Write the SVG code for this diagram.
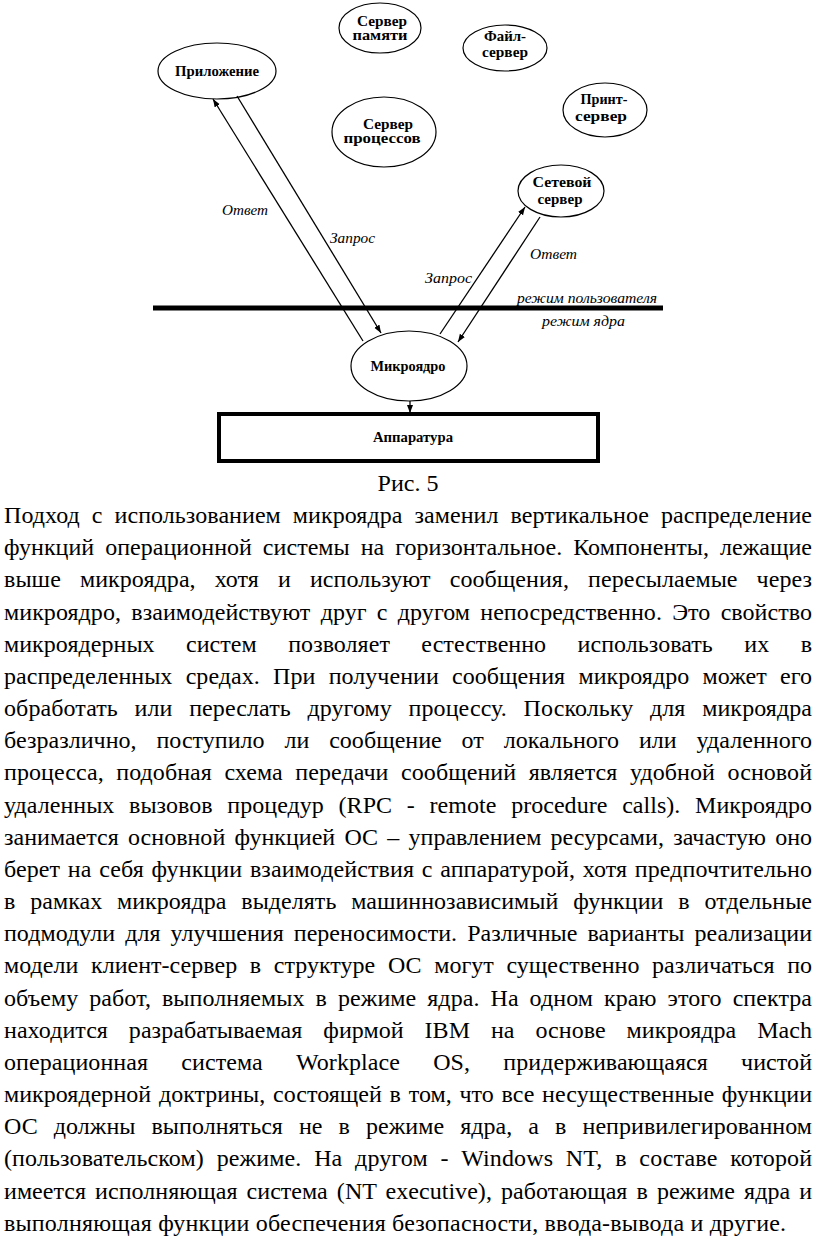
<svg xmlns="http://www.w3.org/2000/svg" width="816" height="1245" viewBox="0 0 816 1245">
<style>
.node ellipse{fill:#fff;stroke:#000;stroke-width:1.2}
.lbl{font-family:"Liberation Serif","Times New Roman",serif;font-weight:bold;font-size:14px;fill:#000;text-anchor:middle}
.it{font-family:"Liberation Serif","Times New Roman",serif;font-style:italic;font-size:15px;fill:#000}
.conn line{stroke:#000;stroke-width:1.3;fill:none}
.p{font-family:"Liberation Serif","Times New Roman",serif;font-size:24px;fill:#000}
</style>
<defs>
<marker id="ah" markerUnits="userSpaceOnUse" markerWidth="9" markerHeight="7" refX="8" refY="3" orient="auto">
<path d="M0,0 L8,3 L0,6 z" fill="#000"/>
</marker>
</defs>
<rect width="816" height="1245" fill="#fff"/>

<g id="node-prilozhenie" class="node">
<ellipse cx="217" cy="71" rx="59" ry="28"/>
<text class="lbl" x="217" y="76" textLength="84" lengthAdjust="spacingAndGlyphs">Приложение</text>
</g>
<g id="node-server-pamyati" class="node">
<ellipse cx="380" cy="28" rx="41" ry="25"/>
<text class="lbl" x="382" y="26" textLength="50" lengthAdjust="spacingAndGlyphs">Сервер</text>
<text class="lbl" x="380" y="40" textLength="55" lengthAdjust="spacingAndGlyphs">памяти</text>
</g>
<g id="node-fail-server" class="node">
<ellipse cx="505" cy="48" rx="42" ry="23"/>
<text class="lbl" x="505" y="41" textLength="42" lengthAdjust="spacingAndGlyphs">Файл-</text>
<text class="lbl" x="505" y="57" textLength="46" lengthAdjust="spacingAndGlyphs">сервер</text>
</g>
<g id="node-print-server" class="node">
<ellipse cx="605" cy="110" rx="42" ry="27"/>
<text class="lbl" x="604" y="104" textLength="47" lengthAdjust="spacingAndGlyphs">Принт-</text>
<text class="lbl" x="601" y="121" textLength="52" lengthAdjust="spacingAndGlyphs">сервер</text>
</g>
<g id="node-server-processov" class="node">
<ellipse cx="384" cy="132" rx="52" ry="35"/>
<text class="lbl" x="388" y="129" textLength="50" lengthAdjust="spacingAndGlyphs">Сервер</text>
<text class="lbl" x="382" y="143" textLength="77" lengthAdjust="spacingAndGlyphs">процессов</text>
</g>
<g id="node-setevoy-server" class="node">
<ellipse cx="561" cy="191" rx="43" ry="26"/>
<text class="lbl" x="562" y="187" textLength="59" lengthAdjust="spacingAndGlyphs">Сетевой</text>
<text class="lbl" x="560" y="204" textLength="45" lengthAdjust="spacingAndGlyphs">сервер</text>
</g>
<g id="node-mikroyadro" class="node">
<ellipse cx="409" cy="366" rx="58" ry="35"/>
<text class="lbl" x="408" y="371" textLength="75" lengthAdjust="spacingAndGlyphs">Микроядро</text>
</g>
<g id="node-apparatura">
<rect x="219" y="414" width="379" height="47" fill="#fff" stroke="#000" stroke-width="4"/>
<text class="lbl" x="413" y="442" textLength="80" lengthAdjust="spacingAndGlyphs">Аппаратура</text>
</g>

<g id="mode-boundary">
<line x1="153" y1="308" x2="663" y2="308" stroke="#000" stroke-width="5"/>
<text class="it" x="517" y="303" textLength="140" lengthAdjust="spacingAndGlyphs">режим пользователя</text>
<text class="it" x="542" y="326" textLength="83" lengthAdjust="spacingAndGlyphs">режим ядра</text>
</g>

<g id="connectors" class="conn">
<line x1="363" y1="341" x2="213" y2="99" marker-end="url(#ah)"/>
<line x1="237" y1="96" x2="381" y2="333" marker-end="url(#ah)"/>
<line x1="440" y1="334" x2="525" y2="207" marker-end="url(#ah)"/>
<line x1="540" y1="217" x2="458" y2="342" marker-end="url(#ah)"/>
<line x1="410" y1="401" x2="410" y2="413" marker-end="url(#ah)"/>
<text class="it" x="222" y="215" textLength="46" lengthAdjust="spacingAndGlyphs">Ответ</text>
<text class="it" x="330" y="243" textLength="45" lengthAdjust="spacingAndGlyphs">Запрос</text>
<text class="it" x="530" y="259" textLength="47" lengthAdjust="spacingAndGlyphs">Ответ</text>
<text class="it" x="425" y="283" textLength="47" lengthAdjust="spacingAndGlyphs">Запрос</text>
</g>

<g id="caption">
<text class="p" x="408" y="491" text-anchor="middle">Рис. 5</text>
</g>

<g id="body-text">
<text class="p" x="4" y="523" word-spacing="6" textLength="808" lengthAdjust="spacing">Подход с использованием микроядра заменил вертикальное распределение</text>
<text class="p" x="4" y="555.2" word-spacing="4.9" textLength="808" lengthAdjust="spacing">функций операционной системы на горизонтальное. Компоненты, лежащие</text>
<text class="p" x="4" y="587.3" word-spacing="13" textLength="808" lengthAdjust="spacing">выше микроядра, хотя и используют сообщения, пересылаемые через</text>
<text class="p" x="4" y="619.5" word-spacing="4.2" textLength="808" lengthAdjust="spacing">микроядро, взаимодействуют друг с другом непосредственно. Это свойство</text>
<text class="p" x="4" y="651.7" word-spacing="25.4" textLength="808" lengthAdjust="spacing">микроядерных систем позволяет естественно использовать их в</text>
<text class="p" x="4" y="683.9" word-spacing="7.2" textLength="808" lengthAdjust="spacing">распределенных средах. При получении сообщения микроядро может его</text>
<text class="p" x="4" y="716" word-spacing="10.6" textLength="808" lengthAdjust="spacing">обработать или переслать другому процессу. Поскольку для микроядра</text>
<text class="p" x="4" y="748.2" word-spacing="13.8" textLength="808" lengthAdjust="spacing">безразлично, поступило ли сообщение от локального или удаленного</text>
<text class="p" x="4" y="780.4" word-spacing="6.5" textLength="808" lengthAdjust="spacing">процесса, подобная схема передачи сообщений является удобной основой</text>
<text class="p" x="4" y="812.5" word-spacing="8.7" textLength="808" lengthAdjust="spacing">удаленных вызовов процедур (RPC - remote procedure calls). Микроядро</text>
<text class="p" x="4" y="844.7" word-spacing="3.2" textLength="808" lengthAdjust="spacing">занимается основной функцией ОС – управлением ресурсами, зачастую оно</text>
<text class="p" x="4" y="876.9" word-spacing="1.6" textLength="808" lengthAdjust="spacing">берет на себя функции взаимодействия с аппаратурой, хотя предпочтительно</text>
<text class="p" x="4" y="909" word-spacing="8.8" textLength="808" lengthAdjust="spacing">в рамках микроядра выделять машиннозависимый функции в отдельные</text>
<text class="p" x="4" y="941.2" word-spacing="4" textLength="808" lengthAdjust="spacing">подмодули для улучшения переносимости. Различные варианты реализации</text>
<text class="p" x="4" y="973.4" word-spacing="6.6" textLength="808" lengthAdjust="spacing">модели клиент-сервер в структуре ОС могут существенно различаться по</text>
<text class="p" x="4" y="1005.6" word-spacing="4.9" textLength="808" lengthAdjust="spacing">объему работ, выполняемых в режиме ядра. На одном краю этого спектра</text>
<text class="p" x="4" y="1037.7" word-spacing="14.8" textLength="808" lengthAdjust="spacing">находится разрабатываемая фирмой IBM на основе микроядра Mach</text>
<text class="p" x="4" y="1069.9" word-spacing="27.1" textLength="808" lengthAdjust="spacing">операционная система Workplace OS, придерживающаяся чистой</text>
<text class="p" x="4" y="1102.1" word-spacing="1.7" textLength="808" lengthAdjust="spacing">микроядерной доктрины, состоящей в том, что все несущественные функции</text>
<text class="p" x="4" y="1134.2" word-spacing="10" textLength="808" lengthAdjust="spacing">ОС должны выполняться не в режиме ядра, а в непривилегированном</text>
<text class="p" x="4" y="1166.4" word-spacing="6.6" textLength="808" lengthAdjust="spacing">(пользовательском) режиме. На другом - Windows NT, в составе которой</text>
<text class="p" x="4" y="1198.6" word-spacing="3" textLength="808" lengthAdjust="spacing">имеется исполняющая система (NT executive), работающая в режиме ядра и</text>
<text class="p" x="4" y="1230.7" textLength="782" lengthAdjust="spacing">выполняющая функции обеспечения безопасности, ввода-вывода и другие.</text>
</g>
</svg>
